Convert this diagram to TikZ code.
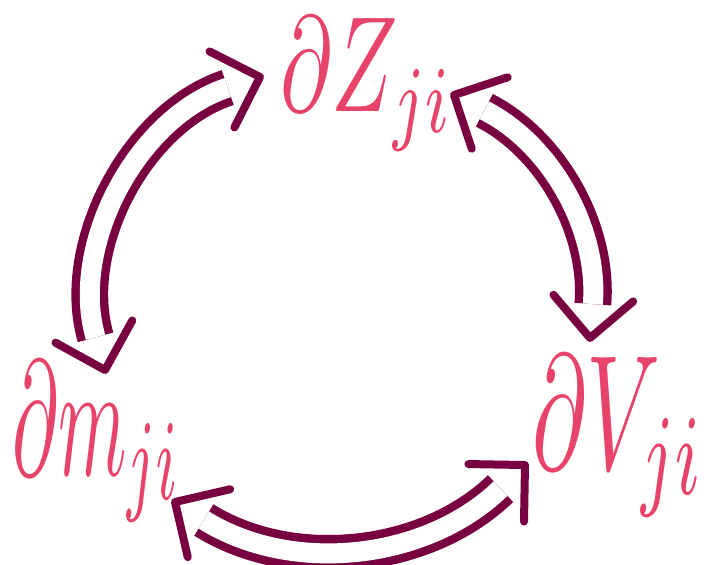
\documentclass[tikz,border=0pt]{standalone}
\usepackage{graphicx}
\usetikzlibrary{decorations.markings}
\definecolor{labelpink}{HTML}{E84368}
\definecolor{arrowwine}{HTML}{780040}
\newcommand{\tallmath}[3]{\scalebox{#1}[#2]{$#3$}}

\begin{document}
\begin{tikzpicture}[x=0.5pt,y=0.5pt]
\tikzset{
  varlabel/.style={text=labelpink,inner sep=0pt,anchor=base west},
  chevron/.style={draw=arrowwine,line width=4pt,line cap=round,line join=round},
  rails/.style={draw=arrowwine,line width=4.2pt,double=white,double distance=10pt,shorten <=17pt,shorten >=17pt},
  twoway/.style={preaction={rails},postaction={decorate,decoration={markings,
      mark=at position 0 with {\draw[chevron] (20pt,20pt) -- (0,0) -- (20pt,-20pt);},
      mark=at position 0.9999 with {\draw[chevron] (-20pt,20pt) -- (0,0) -- (-20pt,-20pt);}}}}
}
\useasboundingbox (0,0) rectangle (707,564);
% labels
\node[varlabel] (dZ) at (280,452) {\tallmath{4.4}{6.8}{\partial Z_{ji}}};
\node[varlabel] (dm) at (12,89) {\tallmath{3.9}{8.2}{\partial m_{ji}}};
\node[varlabel] (dV) at (532,94) {\tallmath{4.6}{8.2}{\partial V_{ji}}};
% arrow ends
\coordinate (mtop) at (105,194);
\coordinate (zleft) at (260,487);
\coordinate (zright) at (454,469);
\coordinate (vtop) at (590,226);
\coordinate (mright) at (175,62);
\coordinate (vleft) at (525,99);
% two-way arrows
\path[twoway] (mtop) to[bend left=44] (zleft);
\path[twoway] (zright) to[bend left=34] (vtop);
\path[twoway] (mright) to[bend right=38] (vleft);
\end{tikzpicture}
\end{document}
